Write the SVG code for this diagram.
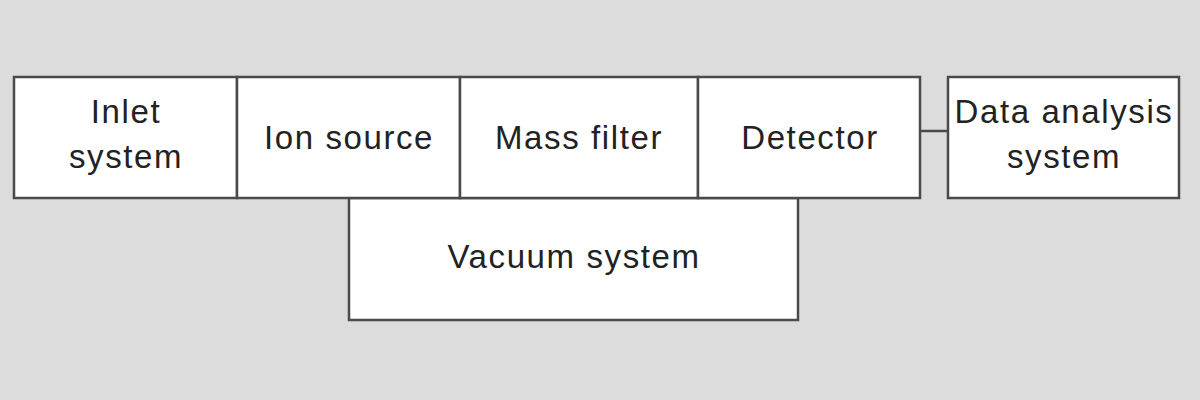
<svg xmlns="http://www.w3.org/2000/svg" width="1200" height="400" viewBox="0 0 1200 400">
<style>
.box{fill:#ffffff;stroke:#4a4a4a;stroke-width:2.5}
.lbl{font-family:"Liberation Sans",Arial,sans-serif;font-size:33px;fill:#222222;text-anchor:middle;letter-spacing:1.6px}
.conn{stroke:#4a4a4a;stroke-width:2.5;fill:none}
</style>
<rect x="0" y="0" width="1200" height="400" fill="#dcdcdc"/>
<g id="connectors">
<line class="conn" x1="920" y1="131" x2="948" y2="131"/>
</g>
<g id="vacuum">
<rect class="box" x="349" y="198" width="449" height="122"/>
<text class="lbl" x="574" y="268">Vacuum system</text>
</g>
<g id="inlet">
<rect class="box" x="14" y="77" width="223" height="121"/>
<text class="lbl" x="126" y="123">Inlet</text>
<text class="lbl" x="126" y="168">system</text>
</g>
<g id="ionsource">
<rect class="box" x="237" y="77" width="223" height="121"/>
<text class="lbl" x="349" y="149">Ion source</text>
</g>
<g id="massfilter">
<rect class="box" x="460" y="77" width="238" height="121"/>
<text class="lbl" x="579" y="149">Mass filter</text>
</g>
<g id="detector">
<rect class="box" x="698" y="77" width="222" height="121"/>
<text class="lbl" x="810" y="149">Detector</text>
</g>
<g id="dataanalysis">
<rect class="box" x="948" y="77" width="231" height="121"/>
<text class="lbl" x="1064" y="123">Data analysis</text>
<text class="lbl" x="1064" y="168">system</text>
</g>
</svg>
